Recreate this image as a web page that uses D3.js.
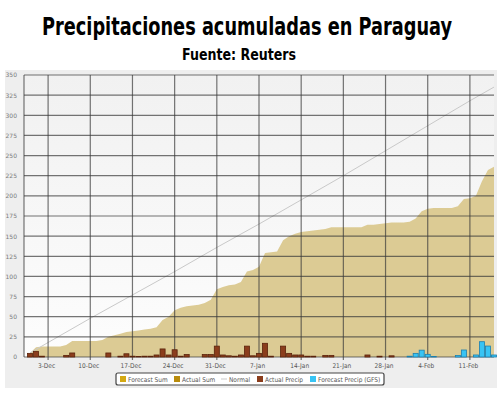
<!DOCTYPE html>
<html>
<head>
<meta charset="utf-8">
<script src="https://cdn.jsdelivr.net/npm/d3@7/dist/d3.min.js"></script>
<style>
body { margin: 0; background: #fff; }
svg { display: block; }
</style>
</head>
<body>
<svg width="500" height="396"></svg>
<script>
// daily values from 30-Nov to 15-Feb
var firstDay = new Date(2017, 10, 30);
var lastDay = new Date(2018, 1, 15);

var accumSum = [5, 12, 13, 13, 13, 13, 15, 20, 20, 20, 20, 20, 21, 25, 27, 29, 31, 32, 33, 34,
  35, 37, 46, 50, 58, 61, 63, 64, 65, 67, 71, 84, 87, 89, 90, 93, 106, 108, 112, 129,
  130, 131, 145, 150, 153, 155, 156, 157, 158, 159, 161, 161, 161, 161, 161, 161, 164, 164, 165, 166,
  167, 167, 167, 168, 172, 181, 184, 185, 185, 185, 185, 187, 196, 197, 200, 218, 232, 236];

var actualPrecip = [4.5, 7, 1, 0, 0, 0, 2, 5, 0, 0, 0, 0, 0, 5, 0, 1, 4, 1, 0.5, 1,
  1, 2.5, 10, 2.5, 9, 1, 3, 0, 0, 3, 3, 13.5, 2.5, 1.5, 1, 2.5, 13.5, 1.5, 4.5, 17,
  1, 0, 13.5, 4.5, 2.5, 2.5, 1, 1, 0, 2, 2, 0, 0, 0, 0, 0, 2.5, 0, 1, 0,
  1.5, 0, 0, 0, 0, 0, 0, 0, 0, 0, 0, 0, 0, 0, 0, 0, 0, 0];

var forecastPrecip = [0, 0, 0, 0, 0, 0, 0, 0, 0, 0, 0, 0, 0, 0, 0, 0, 0, 0, 0, 0,
  0, 0, 0, 0, 0, 0, 0, 0, 0, 0, 0, 0, 0, 0, 0, 0, 0, 0, 0, 0,
  0, 0, 0, 0, 0, 0, 0, 0, 0, 0, 0, 0, 0, 0, 0, 0, 0, 0, 0, 0,
  0, 0, 0, 1, 4.5, 8.5, 3.3, 0.5, 0, 0, 0, 1.8, 8.7, 0, 2.5, 19, 13.6, 2.5];

// normal accumulation, read at the weekly gridlines
var normalDates = ["2017-11-30", "2017-12-03", "2017-12-10", "2017-12-17", "2017-12-24", "2017-12-31",
  "2018-01-07", "2018-01-14", "2018-01-21", "2018-01-28", "2018-02-04", "2018-02-11", "2018-02-15"];
var normalValues = [5, 18, 48, 77, 106, 136, 165, 195, 225, 256, 287, 318, 335];

var tickLabels = ["3-Dec", "10-Dec", "17-Dec", "24-Dec", "31-Dec", "7-Jan", "14-Jan", "21-Jan", "28-Jan", "4-Feb", "11-Feb"];
var yTicks = [0, 25, 50, 75, 100, 125, 150, 175, 200, 225, 250, 275, 300, 325, 350];

var legendNames = ["Forecast Sum", "Actual Sum", "Normal", "Actual Precip", "Forecast Precip (GFS)"];

var svg = d3.select('svg');
var parseDay = d3.timeParse("%Y-%m-%d");
var days = d3.timeDays(firstDay, d3.timeDay.offset(lastDay, 1));

var plotLeft = 24, plotRight = 494, plotTop = 75, plotBottom = 357;

var x = d3.scaleTime()
  .domain([d3.timeHour.offset(firstDay, -12), d3.timeHour.offset(lastDay, 12)])
  .range([plotLeft, plotRight]);
var y = d3.scaleLinear().domain([0, 350]).range([plotBottom, plotTop]);
var dayWidth = x(days[1]) - x(days[0]);

// title
svg.append('text')
  .attr('x', 247).attr('y', 35)
  .attr('text-anchor', 'middle')
  .attr('textLength', 410).attr('lengthAdjust', 'spacingAndGlyphs')
  .style('font-family', '"Liberation Sans Narrow", "DejaVu Sans Condensed", sans-serif')
  .style('font-weight', 'bold').style('font-size', '25px')
  .text('Precipitaciones acumuladas en Paraguay');
svg.append('text')
  .attr('x', 239).attr('y', 60)
  .attr('text-anchor', 'middle')
  .attr('textLength', 114).attr('lengthAdjust', 'spacingAndGlyphs')
  .style('font-family', '"Liberation Sans Narrow", "DejaVu Sans Condensed", sans-serif')
  .style('font-weight', 'bold').style('font-size', '16px')
  .text('Fuente: Reuters');

// chart panel
svg.append('rect')
  .attr('x', 5).attr('y', 70).attr('width', 492).attr('height', 318)
  .attr('fill', '#eeeeee');

var grad = svg.append('defs').append('linearGradient')
  .attr('id', 'plotbg').attr('x1', 0).attr('y1', 0).attr('x2', 0).attr('y2', 1);
grad.append('stop').attr('offset', '0%').attr('stop-color', '#f1f1f1');
grad.append('stop').attr('offset', '100%').attr('stop-color', '#fdfdfd');

svg.append('rect')
  .attr('x', plotLeft).attr('y', plotTop)
  .attr('width', plotRight - plotLeft).attr('height', plotBottom - plotTop)
  .attr('fill', 'url(#plotbg)');

// accumulated area
var area = d3.area()
  .x(function(d, i) { return x(d3.timeHour.offset(days[i], 12)); })
  .y0(y(0))
  .y1(function(d) { return y(d); });
svg.append('path')
  .datum(accumSum)
  .attr('d', area)
  .attr('fill', '#dccb94');

// normal line
var line = d3.line()
  .x(function(d, i) { return x(d3.timeHour.offset(parseDay(normalDates[i]), 12)); })
  .y(function(d) { return y(d); });
svg.append('path')
  .datum(normalValues)
  .attr('d', line)
  .attr('fill', 'none')
  .attr('stroke', '#c9c9c9')
  .attr('stroke-width', 1);

// grid
var tickDates = tickLabels.map(function(s) {
  var t = d3.timeParse("%-d-%b")(s);
  var yr = t.getMonth() === 11 ? 2017 : 2018;
  return new Date(yr, t.getMonth(), t.getDate(), 12);
});

svg.append('g').selectAll('line').data(yTicks).enter().append('line')
  .attr('x1', plotLeft).attr('x2', plotRight)
  .attr('y1', function(d) { return y(d); }).attr('y2', function(d) { return y(d); })
  .attr('stroke', '#3a3a3a').attr('stroke-opacity', 0.7).attr('stroke-width', 1.2);
svg.append('g').selectAll('line').data(tickDates).enter().append('line')
  .attr('x1', function(d) { return x(d); }).attr('x2', function(d) { return x(d); })
  .attr('y1', plotTop).attr('y2', plotBottom + 3)
  .attr('stroke', '#3a3a3a').attr('stroke-opacity', 0.7).attr('stroke-width', 1.2);
svg.append('line')
  .attr('x1', plotLeft).attr('x2', plotLeft).attr('y1', plotTop).attr('y2', plotBottom)
  .attr('stroke', '#3a3a3a').attr('stroke-opacity', 0.7).attr('stroke-width', 1.2);

// bars
function drawBars(values, fill, edge) {
  svg.append('g').selectAll('rect')
    .data(values.map(function(v, i) { return { day: days[i], v: v }; }).filter(function(d) { return d.v > 0; }))
    .enter().append('rect')
    .attr('x', function(d) { return x(d.day) + 0.5; })
    .attr('y', function(d) { return y(d.v); })
    .attr('width', dayWidth - 1)
    .attr('height', function(d) { return y(0) - y(d.v); })
    .attr('fill', fill)
    .attr('stroke', edge)
    .attr('stroke-width', 0.8);
}
drawBars(actualPrecip, '#8b3d1c', '#5a230c');
drawBars(forecastPrecip, '#38c4f4', '#1c7fae');

// axes
var yAxis = d3.axisLeft(y).tickValues(yTicks).tickSize(0).tickPadding(0);
var gy = svg.append('g').attr('transform', 'translate(17,0)').call(yAxis);
gy.select('.domain').remove();
gy.selectAll('text')
  .style('font-family', '"DejaVu Sans", sans-serif')
  .style('font-size', '6px')
  .attr('fill', '#7a7a7a');

var xAxis = d3.axisBottom(x).tickValues(tickDates).tickSize(0).tickPadding(6)
  .tickFormat(function(d, i) { return tickLabels[i]; });
var gx = svg.append('g').attr('transform', 'translate(-2,' + plotBottom + ')').call(xAxis);
gx.select('.domain').remove();
gx.selectAll('text')
  .style('font-family', '"DejaVu Sans Condensed", "DejaVu Sans", sans-serif')
  .style('font-size', '6.5px')
  .attr('fill', '#555');

// legend
var legend = svg.append('g');
legend.append('rect')
  .attr('x', 116).attr('y', 373).attr('width', 268).attr('height', 12)
  .attr('rx', 2)
  .attr('fill', '#fff').attr('stroke', '#444').attr('stroke-width', 1.2);
var legendX = [120, 174, 221, 257, 310];
var legendColors = ['#d4a912', '#b98c0c', '#c9c9c9', '#8b3d1c', '#38c4f4'];
legendNames.forEach(function(name, i) {
  if (name === 'Normal') {
    legend.append('line')
      .attr('x1', legendX[i]).attr('x2', legendX[i] + 6).attr('y1', 379).attr('y2', 379)
      .attr('stroke', legendColors[i]).attr('stroke-width', 1);
  } else {
    legend.append('rect')
      .attr('x', legendX[i]).attr('y', 376).attr('width', 6).attr('height', 6)
      .attr('fill', legendColors[i]);
  }
  legend.append('text')
    .attr('x', legendX[i] + 8).attr('y', 381.5)
    .style('font-family', '"DejaVu Sans Condensed", "DejaVu Sans", sans-serif')
    .style('font-size', '6.5px')
    .attr('fill', '#555')
    .text(name);
});
</script>
</body>
</html>
